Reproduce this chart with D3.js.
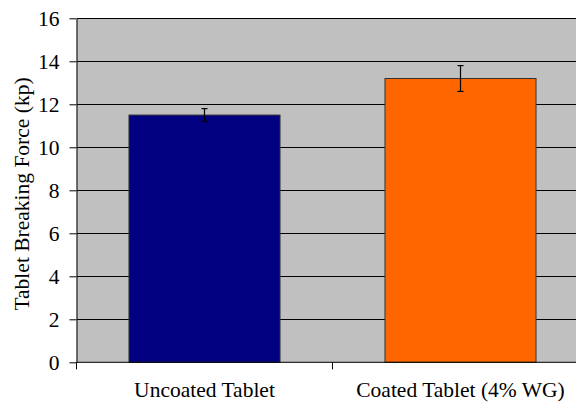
<!DOCTYPE html>
<html>
<head>
<meta charset="utf-8">
<script src="https://cdn.jsdelivr.net/npm/d3@7"></script>
<style>
  html, body { margin: 0; padding: 0; background: #fff; }
  svg { display: block; }
</style>
</head>
<body>
<svg id="chart" width="576" height="402"></svg>
<script>
const categories = ["Uncoated Tablet", "Coated Tablet (4% WG)"];
const values = [11.5, 13.2];
const errors = [0.3, 0.6];
const colors = ["#000080", "#FF6600"];
const yTicks = [0, 2, 4, 6, 8, 10, 12, 14, 16];
const yTitle = "Tablet Breaking Force (kp)";

const FONT = "Liberation Serif";
const FS = 21.5;
const svg = d3.select("#chart");
const mLeft = 76.5, mTop = 18.3, plotW = 512, plotH = 344;

const x = d3.scaleBand().domain(categories).range([mLeft, mLeft + plotW])
  .paddingInner(0.41).paddingOuter(0.205);
const y = d3.scaleLinear().domain([0, 16]).range([mTop + plotH, mTop]);

// plot background
svg.append("rect").attr("x", mLeft).attr("y", mTop).attr("width", plotW).attr("height", plotH)
  .attr("fill", "#C0C0C0");

// gridlines
svg.append("g").selectAll("line").data(yTicks.filter(d => d > 0)).join("line")
  .attr("x1", mLeft).attr("x2", mLeft + plotW)
  .attr("y1", d => y(d)).attr("y2", d => y(d))
  .attr("stroke", "#000").attr("stroke-width", 1).attr("shape-rendering", "crispEdges");

// bars
svg.append("g").selectAll("rect").data(categories).join("rect")
  .attr("x", d => x(d)).attr("width", x.bandwidth())
  .attr("y", (d, i) => y(values[i])).attr("height", (d, i) => y(0) - y(values[i]))
  .attr("fill", (d, i) => colors[i])
  .attr("stroke", "#333").attr("stroke-width", 1);

// error bars
const eb = svg.append("g").attr("stroke", "#000").attr("stroke-width", 1.2);
categories.forEach((c, i) => {
  const cx = x(c) + x.bandwidth() / 2;
  eb.append("line").attr("x1", cx).attr("x2", cx)
    .attr("y1", y(values[i] + errors[i])).attr("y2", y(values[i] - errors[i]));
  [values[i] + errors[i], values[i] - errors[i]].forEach(v => {
    eb.append("line").attr("x1", cx - 3).attr("x2", cx + 3).attr("y1", y(v)).attr("y2", y(v));
  });
});

// y axis
const yAxis = svg.append("g").attr("transform", `translate(${mLeft},0)`)
  .call(d3.axisLeft(y).tickValues(yTicks).tickSize(7).tickPadding(10).tickSizeOuter(0));
yAxis.attr("font-family", FONT).attr("font-size", FS);
yAxis.select(".domain").attr("stroke", "#000");
yAxis.selectAll(".tick line").attr("stroke", "#000");
yAxis.selectAll("text").attr("font-family", FONT).attr("font-size", FS).attr("fill", "#000");

// x axis
const xAxisG = svg.append("g");
xAxisG.append("line").attr("x1", mLeft).attr("x2", mLeft + plotW)
  .attr("y1", y(0)).attr("y2", y(0)).attr("stroke", "#000");
const boundaries = d3.range(categories.length + 1).map(i => mLeft + i * x.step());
xAxisG.selectAll("line.t").data(boundaries).join("line").attr("class", "t")
  .attr("x1", d => d).attr("x2", d => d).attr("y1", y(0)).attr("y2", y(0) + 7)
  .attr("stroke", "#000");
xAxisG.selectAll("text").data(categories).join("text")
  .attr("x", d => x(d) + x.bandwidth() / 2).attr("y", 397)
  .attr("text-anchor", "middle").attr("font-family", FONT).attr("font-size", FS)
  .attr("fill", "#000").text(d => d);

// y title
svg.append("text").attr("transform", `translate(29,194) rotate(-90)`)
  .attr("text-anchor", "middle").attr("font-family", FONT).attr("font-size", FS)
  .attr("fill", "#000").text(yTitle);
</script>
</body>
</html>
